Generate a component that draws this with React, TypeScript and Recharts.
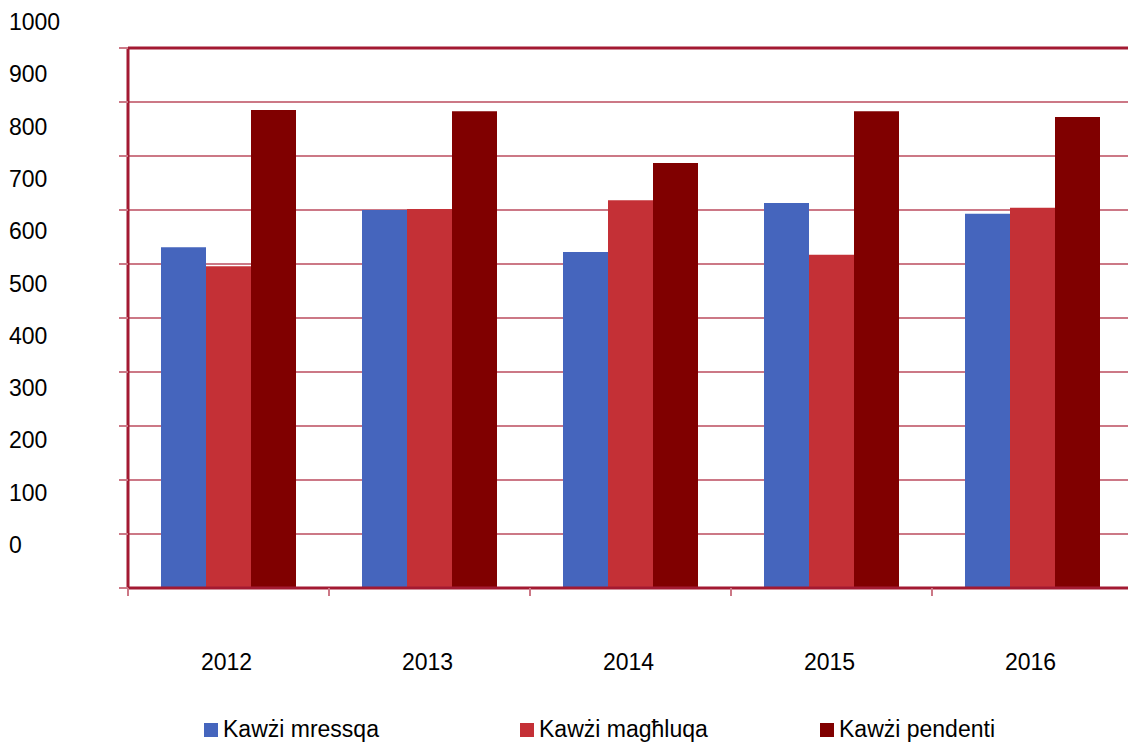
import { BarChart, Bar, XAxis, YAxis, CartesianGrid, ReferenceLine, Legend } from 'recharts'

const years = ['2012', '2013', '2014', '2015', '2016']
const mressqa = [631, 700, 622, 713, 693]
const maghluqa = [596, 702, 718, 617, 704]
const pendenti = [885, 883, 787, 883, 872]
const yTicks = [0, 100, 200, 300, 400, 500, 600, 700, 800, 900, 1000]

const series = [
  { key: 'mressqa', name: 'Kawżi mressqa', color: '#4565BD' },
  { key: 'maghluqa', name: 'Kawżi magħluqa', color: '#C43036' },
  { key: 'pendenti', name: 'Kawżi pendenti', color: '#800000' },
]

const data = years.map((year, i) => ({
  year,
  mressqa: mressqa[i],
  maghluqa: maghluqa[i],
  pendenti: pendenti[i],
}))

const AXIS = '#A31A32'
const GRID = '#CC7886'
const FONT = '"Liberation Sans", Arial, sans-serif'
const BAND = 201

// y labels sit a bit above their grid lines, drifting with the value
function YTick({ y, payload }: any) {
  const v = payload.value as number
  return (
    <text x={9} y={y - 35 + v * 0.017} fontSize={23} fontFamily={FONT} fill="#000" textAnchor="start">
      {v}
    </text>
  )
}

// tick marks go on the category boundaries, labels in the middle
function XTick({ x, y, payload }: any) {
  const left = x - BAND / 2
  return (
    <g>
      <line x1={left} x2={left} y1={y} y2={y + 8} stroke={GRID} strokeWidth={2} />
      <text x={x - 2} y={y + 82} fontSize={23} fontFamily={FONT} fill="#000" textAnchor="middle">
        {payload.value}
      </text>
    </g>
  )
}

function LegendBox() {
  const lefts = [204, 520, 820]
  return (
    <div style={{ position: 'relative', height: 50, fontFamily: FONT, fontSize: 23 }}>
      {series.map((s, i) => (
        <div
          key={s.key}
          style={{ position: 'absolute', left: lefts[i], top: 30, display: 'flex', alignItems: 'center', whiteSpace: 'nowrap' }}
        >
          <span style={{ width: 14, height: 14, background: s.color, display: 'inline-block', marginRight: 5 }} />
          <span style={{ lineHeight: '23px' }}>{s.name}</span>
        </div>
      ))}
    </div>
  )
}

export default function App() {
  return (
    <div style={{ position: 'absolute', left: 0, top: 0, width: 1128, height: 742, overflow: 'hidden', background: '#fff' }}>
      <BarChart
        width={1133}
        height={742}
        data={data}
        margin={{ top: 48, right: 0, left: 0, bottom: 4 }}
        barCategoryGap={33}
        barGap={0}
      >
        <CartesianGrid vertical={false} horizontal={true} stroke={GRID} strokeWidth={2} />
        <XAxis
          dataKey="year"
          height={100}
          interval={0}
          axisLine={{ stroke: AXIS, strokeWidth: 3 }}
          tickLine={false}
          tickSize={0}
          tickMargin={0}
          tick={<XTick />}
        />
        <YAxis
          width={128}
          domain={[0, 1000]}
          ticks={yTicks}
          interval={0}
          axisLine={{ stroke: AXIS, strokeWidth: 3 }}
          tickLine={{ stroke: GRID, strokeWidth: 2 }}
          tickSize={9}
          tick={<YTick />}
        />
        <ReferenceLine y={1000} stroke={AXIS} strokeWidth={3} />
        <Legend verticalAlign="bottom" height={50} content={<LegendBox />} />
        {series.map((s) => (
          <Bar key={s.key} dataKey={s.key} name={s.name} fill={s.color} barSize={45} isAnimationActive={false} />
        ))}
      </BarChart>
    </div>
  )
}
